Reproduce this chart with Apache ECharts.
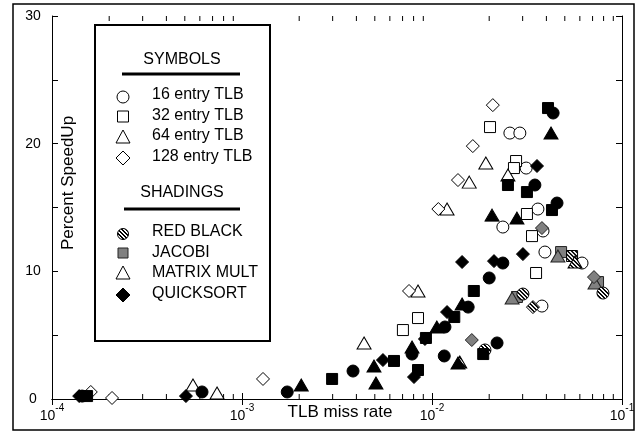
<!DOCTYPE html>
<html>
<head>
<meta charset="utf-8">
<script src="https://cdn.jsdelivr.net/npm/echarts@6/dist/echarts.min.js"></script>
<style>
  html, body { margin: 0; padding: 0; background: #fff; }
  #chart { width: 639px; height: 434px; }
</style>
</head>
<body>
<div id="chart"></div>
<script>
// [TLB miss rate, percent speedup], one array per program x TLB size
// QUICKSORT (black)
const qs16 = [[1.44e-4, 0.23], [6.16e-4, 0.55], [1.73e-3, 0.55], [3.84e-3, 2.19], [7.85e-3, 3.52], [1.16e-2, 3.37],
  [1.17e-2, 5.64], [1.55e-2, 7.2], [2.0e-2, 9.48], [2.36e-2, 10.65], [2.2e-2, 4.39], [3.48e-2, 16.76], [4.55e-2, 15.35], [4.34e-2, 22.4]];
const qs32 = [[1.53e-4, 0.23], [2.98e-3, 1.57], [6.31e-3, 2.98], [8.44e-3, 2.27], [9.29e-3, 4.78], [1.31e-2, 6.42],
  [1.66e-2, 8.46], [1.86e-2, 3.52], [2.51e-2, 16.76], [3.16e-2, 16.21], [4.28e-2, 14.8], [4.08e-2, 22.79]];
const qs64 = [[2.05e-3, 1.1], [4.95e-3, 2.58], [5.07e-3, 1.25], [7.85e-3, 4.07], [1.06e-2, 5.64], [1.44e-2, 7.44],
  [1.37e-2, 2.82], [2.07e-2, 14.4], [2.8e-2, 14.17], [4.23e-2, 20.83]];
const qs128 = [[1.39e-4, 0.23], [5.07e-4, 0.23], [5.52e-3, 3.05], [8.04e-3, 1.72], [9.18e-3, 4.7], [1.2e-2, 6.81],
  [1.44e-2, 10.73], [2.12e-2, 10.8], [3.01e-2, 11.35], [3.57e-2, 18.25]];
// MATRIX MULT (open)
const mm16 = [[2.57e-2, 20.83], [2.9e-2, 20.83], [3.13e-2, 18.09], [3.61e-2, 14.88], [2.36e-2, 13.47], [3.84e-2, 13.16],
  [3.93e-2, 11.51], [6.16e-2, 10.65], [3.79e-2, 7.28]];
const mm32 = [[2.02e-2, 21.3], [2.77e-2, 18.64], [2.7e-2, 18.09], [3.16e-2, 14.49], [3.36e-2, 12.76], [3.53e-2, 9.87],
  [7.03e-3, 5.4], [8.44e-3, 6.34]];
const mm64 = [[5.52e-4, 1.1], [7.39e-4, 0.47], [4.39e-3, 4.39], [8.44e-3, 8.46], [1.2e-2, 14.88], [1.57e-2, 16.99],
  [1.92e-2, 18.48], [2.51e-2, 17.54]];
const mm128 = [[1.6e-4, 0.55], [2.07e-4, 0.08], [1.29e-3, 1.57], [7.57e-3, 8.46], [1.08e-2, 14.88], [1.37e-2, 17.15],
  [1.64e-2, 19.81], [2.09e-2, 23.02]];
// JACOBI (gray)
const jc32 = [[2.8e-2, 7.99], [4.78e-2, 11.51], [7.48e-2, 9.16]];
const jc64 = [[2.64e-2, 7.91], [4.6e-2, 11.2], [7.21e-2, 9.08]];
const jc128 = [[1.62e-2, 4.62], [3.79e-2, 13.39], [7.12e-2, 9.55]];
// RED BLACK (hatched)
const rb16 = [[3.01e-2, 8.22], [1.9e-2, 3.84], [7.94e-2, 8.3]];
const rb32 = [[5.46e-2, 11.2]];
const rb64 = [[5.66e-2, 10.73], [1.4e-2, 2.9]];
const rb128 = [[3.4e-2, 7.2]];

const decades = [1e-4, 1e-3, 1e-2];
const minorMult = [2, 3, 4, 5, 6, 7, 8, 9];
const minorTicks = [];
decades.forEach(d => minorMult.forEach(m => minorTicks.push(d * m)));

const FONT = '"Liberation Sans", Arial, sans-serif';

// crisp diagonal stripe tile for RED BLACK
const TILE = 8;
const hatch = document.createElement('canvas');
hatch.width = TILE; hatch.height = TILE;
const hc = hatch.getContext('2d');
for (let i = 0; i < TILE; i++) {
  for (let j = 0; j < TILE; j++) {
    hc.fillStyle = ((i - j + TILE) % 4) < 2 ? '#000' : '#fff';
    hc.fillRect(i, j, 1, 1);
  }
}
// symbols are unit paths scaled by size/2, so shrink the pattern to keep ~4px stripes
const hatchFor = size => {
  const w = Array.isArray(size) ? size[0] : size;
  const h = Array.isArray(size) ? size[1] : size;
  return { image: hatch, repeat: 'repeat', scaleX: 2 / w, scaleY: 2 / h };
};

const shapes = {
  s16: { symbol: 'circle', size: 12 },
  s32: { symbol: 'rect', size: 11 },
  s64: { symbol: 'triangle', size: [14, 12] },
  s128: { symbol: 'diamond', size: [13, 13] }
};
const fillFor = (fill, size) => {
  if (fill === 'mm') return { color: '#fff', borderColor: '#000', borderWidth: 1, opacity: 1 };
  if (fill === 'jc') return { color: '#808080', borderColor: '#222', borderWidth: 1, opacity: 1 };
  if (fill === 'rb') return { color: hatchFor(size), borderColor: '#000', borderWidth: 1, opacity: 1 };
  return { color: '#000', borderColor: '#000', borderWidth: 1, opacity: 1 };
};

const mk = (name, data, shape, fill) => ({
  name, type: 'scatter', data,
  symbol: shapes[shape].symbol,
  symbolSize: shapes[shape].size,
  itemStyle: fillFor(fill, shapes[shape].size),
  emphasis: { disabled: true },
  animation: false
});

const chart = echarts.init(document.getElementById('chart'));

// legend drawn as graphic
const lgX = 123;
const txtX = 152;
const lgText = (t, y, x = txtX, align = 'left') => ({
  type: 'text', x, y,
  style: { text: t, font: '16px ' + FONT, fill: '#000', align, verticalAlign: 'middle' }
});
const circ = (cx, cy, r, fill) => ({ type: 'circle', shape: { cx, cy, r }, style: { fill, stroke: '#000', lineWidth: 1 } });
const poly = (pts, fill, stroke = '#000') => ({ type: 'polygon', shape: { points: pts }, style: { fill, stroke, lineWidth: 1 } });
const tri = (cx, cy, fill) => poly([[cx, cy - 7], [cx + 7, cy + 6], [cx - 7, cy + 6]], fill);
const dia = (cx, cy, fill) => poly([[cx, cy - 7], [cx + 7, cy], [cx, cy + 7], [cx - 7, cy]], fill);

const legendItems = [
  { type: 'rect', shape: { x: 95, y: 25, width: 175, height: 316 }, style: { fill: '#fff', stroke: '#000', lineWidth: 2 } },
  lgText('SYMBOLS', 60, 182, 'center'),
  { type: 'line', shape: { x1: 122, y1: 74, x2: 240, y2: 74 }, style: { stroke: '#000', lineWidth: 3 } },
  circ(lgX, 97, 6, '#fff'), lgText('16 entry TLB', 95),
  { type: 'rect', shape: { x: lgX - 5.5, y: 111, width: 11, height: 11 }, style: { fill: '#fff', stroke: '#000', lineWidth: 1 } },
  lgText('32 entry TLB', 116),
  tri(lgX, 137, '#fff'), lgText('64 entry TLB', 136),
  dia(lgX, 158, '#fff'), lgText('128 entry TLB', 157),
  lgText('SHADINGS', 193, 182, 'center'),
  { type: 'line', shape: { x1: 124, y1: 209, x2: 240, y2: 209 }, style: { stroke: '#000', lineWidth: 3 } },
  circ(lgX, 234, 5.5, { image: hatch, repeat: 'repeat' }), lgText('RED BLACK', 232),
  { type: 'rect', shape: { x: lgX - 5, y: 248, width: 10, height: 10 }, style: { fill: '#808080', stroke: '#222', lineWidth: 1 } },
  lgText('JACOBI', 253),
  tri(lgX, 273, '#fff'), lgText('MATRIX MULT', 273),
  dia(lgX, 295, '#000'), lgText('QUICKSORT', 294)
].map(e => Object.assign(e, { z: 10 }));

const option = {
  backgroundColor: '#fff',
  animation: false,
  grid: { left: 52, right: 17, top: 16, bottom: 35 },
  xAxis: [
    {
      type: 'log', logBase: 10, min: 1e-4, max: 1e-1,
      axisLine: { lineStyle: { color: '#000', width: 1 } },
      axisTick: { inside: true, length: 6, lineStyle: { color: '#000' } },
      splitLine: { show: false },
      axisLabel: {
        margin: 4, color: '#000',
        formatter: v => '{b|10}{s|' + Math.round(Math.log10(v)) + '}',
        rich: {
          b: { fontSize: 14, fontFamily: FONT, color: '#000', padding: [6, 0, 0, 0] },
          s: { fontSize: 10, fontFamily: FONT, color: '#000', verticalAlign: 'top' }
        }
      }
    },
    {
      type: 'log', logBase: 10, min: 1e-4, max: 1e-1, position: 'top',
      axisLine: { lineStyle: { color: '#000', width: 1 } },
      axisTick: { inside: true, length: 6, lineStyle: { color: '#000' } },
      axisLabel: { show: false },
      splitLine: { show: false }
    }
  ],
  yAxis: [
    {
      type: 'value', min: 0, max: 30, interval: 5,
      axisLine: { show: true, lineStyle: { color: '#000', width: 1 } },
      axisTick: { show: true, inside: true, length: 6, lineStyle: { color: '#000' } },
      splitLine: { show: false },
      axisLabel: {
        color: '#000', fontSize: 14, fontFamily: FONT, align: 'center', margin: 19,
        formatter: v => (v % 10 === 0 ? String(v) : '')
      }
    },
    {
      type: 'value', min: 0, max: 30, interval: 5, position: 'right',
      axisLine: { show: true, lineStyle: { color: '#000', width: 1 } },
      axisTick: { show: true, inside: true, length: 6, lineStyle: { color: '#000' } },
      splitLine: { show: false },
      axisLabel: { show: false }
    }
  ],
  graphic: [
    { type: 'rect', shape: { x: 13, y: 4, width: 621, height: 426 }, style: { fill: 'none', stroke: '#000', lineWidth: 1.5 }, z: -1 },
    {
      type: 'text', x: 68, y: 183, rotation: Math.PI / 2,
      style: { text: 'Percent SpeedUp', font: '17px ' + FONT, fill: '#000', align: 'center', verticalAlign: 'middle' }
    },
    {
      type: 'text', x: 340, y: 412,
      style: { text: 'TLB miss rate', font: '17px ' + FONT, fill: '#000', align: 'center', verticalAlign: 'middle' }
    }
  ].concat(legendItems),
  series: [
    {
      name: 'minor ticks', type: 'custom', silent: true,
      data: minorTicks.map(v => [v, 0]),
      renderItem: (params, api) => {
        const b = api.coord([api.value(0), 0]);
        const t = api.coord([api.value(0), 30]);
        return {
          type: 'group',
          children: [
            { type: 'line', shape: { x1: b[0], y1: b[1], x2: b[0], y2: b[1] - 5 }, style: { stroke: '#000', lineWidth: 1 } },
            { type: 'line', shape: { x1: t[0], y1: t[1], x2: t[0], y2: t[1] + 5 }, style: { stroke: '#000', lineWidth: 1 } }
          ]
        };
      }
    },
    mk('MATRIX MULT 16', mm16, 's16', 'mm'),
    mk('MATRIX MULT 32', mm32, 's32', 'mm'),
    mk('MATRIX MULT 64', mm64, 's64', 'mm'),
    mk('MATRIX MULT 128', mm128, 's128', 'mm'),
    mk('JACOBI 32', jc32, 's32', 'jc'),
    mk('JACOBI 64', jc64, 's64', 'jc'),
    mk('JACOBI 128', jc128, 's128', 'jc'),
    mk('RED BLACK 16', rb16, 's16', 'rb'),
    mk('RED BLACK 32', rb32, 's32', 'rb'),
    mk('RED BLACK 64', rb64, 's64', 'rb'),
    mk('RED BLACK 128', rb128, 's128', 'rb'),
    mk('QUICKSORT 16', qs16, 's16', 'qs'),
    mk('QUICKSORT 32', qs32, 's32', 'qs'),
    mk('QUICKSORT 64', qs64, 's64', 'qs'),
    mk('QUICKSORT 128', qs128, 's128', 'qs')
  ]
};

chart.setOption(option);
</script>
</body>
</html>
